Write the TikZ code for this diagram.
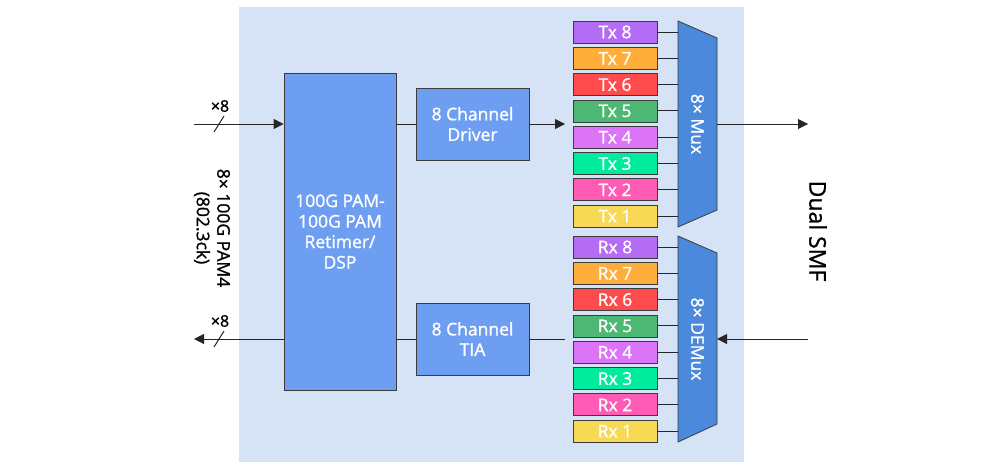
\documentclass[tikz,border=0pt]{standalone}
\usepackage{fontspec}
\setmainfont{Open Sans}
\newfontfamily\labelfont{Open Sans}[FakeBold=1.2]
\usepackage{tikz}
\usetikzlibrary{positioning,arrows.meta}
\definecolor{PaleBlue}{HTML}{D6E3F6}
\definecolor{BlockBlue}{HTML}{6D9EF1}
\definecolor{MuxBlue}{HTML}{4A89DC}
\definecolor{EdgeGray}{HTML}{3C3C3C}
\definecolor{LaneViolet}{HTML}{B46CF5}
\definecolor{LaneOrange}{HTML}{FFAD3B}
\definecolor{LaneRed}{HTML}{FF4B4B}
\definecolor{LaneGreen}{HTML}{4DB873}
\definecolor{LaneOrchid}{HTML}{DC74F8}
\definecolor{LaneMint}{HTML}{00EC9C}
\definecolor{LanePink}{HTML}{FF5BB5}
\definecolor{LaneYellow}{HTML}{F7D955}

\begin{document}
\begin{tikzpicture}[x=1pt, y=-1pt, node distance=3.5pt,
    every node/.style={font=\labelfont\fontsize{17.5}{20.5}\selectfont},
    block/.style={draw=EdgeGray, line width=0.8pt, fill=BlockBlue, text=white, align=center, inner sep=0pt},
    lane/.style={draw=EdgeGray, line width=0.8pt, text=white, minimum width=84pt, minimum height=22pt, inner sep=0pt},
    muxshape/.style={draw=EdgeGray, line width=0.8pt, fill=MuxBlue},
    wire/.style={line width=1pt, draw=black!85},
    arr/.style={-{Triangle[length=10pt,width=10pt]}}]
      \useasboundingbox (0,0) rectangle (1000,469);
      \fill[PaleBlue] (239,7) rectangle (744,462);

      \node[block, minimum width=112pt, minimum height=317pt] (dsp) at (340,231.5) {100G PAM-\\100G PAM\\Retimer/\\DSP};
      \node[block, minimum width=113pt, minimum height=72pt] (driver) at (472.5,124) {8 Channel\\Driver};
      \node[block, minimum width=113pt, minimum height=72pt] (tia) at (472.5,339) {8 Channel\\TIA};

      \node[lane, fill=LaneViolet] (tx8) at (615,32) {Tx 8};
      \node[lane, fill=LaneOrange, below=of tx8] (tx7) {Tx 7};
      \node[lane, fill=LaneRed, below=of tx7] (tx6) {Tx 6};
      \node[lane, fill=LaneGreen, below=of tx6] (tx5) {Tx 5};
      \node[lane, fill=LaneOrchid, below=of tx5] (tx4) {Tx 4};
      \node[lane, fill=LaneMint, below=of tx4] (tx3) {Tx 3};
      \node[lane, fill=LanePink, below=of tx3] (tx2) {Tx 2};
      \node[lane, fill=LaneYellow, below=of tx2] (tx1) {Tx 1};

      \node[lane, fill=LaneViolet] (rx8) at (615,247) {Rx 8};
      \node[lane, fill=LaneOrange, below=of rx8] (rx7) {Rx 7};
      \node[lane, fill=LaneRed, below=of rx7] (rx6) {Rx 6};
      \node[lane, fill=LaneGreen, below=of rx6] (rx5) {Rx 5};
      \node[lane, fill=LaneOrchid, below=of rx5] (rx4) {Rx 4};
      \node[lane, fill=LaneMint, below=of rx4] (rx3) {Rx 3};
      \node[lane, fill=LanePink, below=of rx3] (rx2) {Rx 2};
      \node[lane, fill=LaneYellow, below=of rx2] (rx1) {Rx 1};

      \coordinate (mux nw) at (678,21);
      \coordinate (mux ne) at (717,38);
      \coordinate (mux se) at (717,210);
      \coordinate (mux sw) at (678,227);
      \filldraw[muxshape] (mux nw) -- (mux ne) -- (mux se) -- (mux sw) -- cycle;
      \node[rotate=-90, text=white] (muxlabel) at (697.5,124) {8× Mux};

      \coordinate (demux nw) at (678,236);
      \coordinate (demux ne) at (717,253);
      \coordinate (demux se) at (717,424);
      \coordinate (demux sw) at (678,442);
      \filldraw[muxshape] (demux nw) -- (demux ne) -- (demux se) -- (demux sw) -- cycle;
      \node[rotate=-90, text=white] (demuxlabel) at (697.5,339) {8× DEMux};

      \foreach \n in {1,...,8} {
        \draw[wire] (tx\n.east) -- (tx\n.east -| mux nw);
        \draw[wire] (rx\n.east) -- (rx\n.east -| demux nw);
      }

      \coordinate (hostin) at (194,124);
      \coordinate (hostout) at (194,339);
      \coordinate (txin) at (565,124);
      \coordinate (rxout) at (565,339);
      \coordinate (muxout) at (717,124);
      \coordinate (demuxin) at (717,339);
      \coordinate (fibreout) at (808,124);
      \coordinate (fibrein) at (808,339);
      \coordinate (slashin) at (219,124);
      \coordinate (slashout) at (219,339);

      \draw[wire, arr] (hostin) -- (hostin -| dsp.west);
      \draw[wire, arr] (hostout -| dsp.west) -- (hostout);
      \draw[wire] ([shift={(-5,8)}]slashin) -- ([shift={(5,-8)}]slashin);
      \draw[wire] ([shift={(-5,8)}]slashout) -- ([shift={(5,-8)}]slashout);
      \draw[wire] (driver.west -| dsp.east) -- (driver.west);
      \draw[wire] (tia.west -| dsp.east) -- (tia.west);
      \draw[wire, arr] (driver.east) -- (txin);
      \draw[wire] (tia.east) -- (rxout);
      \draw[wire, arr] (muxout) -- (fibreout);
      \draw[wire, arr] (fibrein) -- (demuxin);

      \node[font=\labelfont\fontsize{16}{18}\selectfont] (lanesin) at (220,106) {×8};
      \node[font=\labelfont\fontsize{16}{18}\selectfont] (lanesout) at (220,321) {×8};
      \node[rotate=-90, align=center] (host) at (212,228) {8× 100G PAM4\\(802.3ck)};
      \node[rotate=-90, inner sep=0pt, font=\labelfont\fontsize{23}{27}\selectfont] (fibre) at (818,231) {Dual SMF};
    \end{tikzpicture}
\end{document}
